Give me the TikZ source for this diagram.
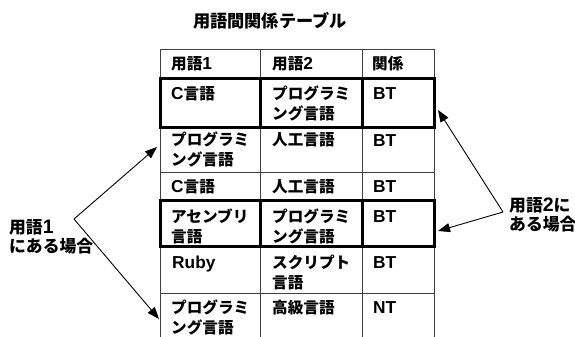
\documentclass[tikz,border=0pt]{standalone}
\usepackage{fontspec}
\setmainfont{Noto Sans CJK JP}
\newfontfamily\latfont{Liberation Sans}
\usetikzlibrary{arrows.meta}
\newcommand\lt[1]{{\latfont\bfseries\fontsize{17.3bp}{20bp}\selectfont #1}}
\newcommand\ltl[1]{{\latfont\bfseries\fontsize{19.5bp}{19bp}\selectfont #1}}
\begin{document}
\begin{tikzpicture}[x=1bp,y=-1bp,
  cell/.style={anchor=north west,inner sep=0pt,align=left,font=\bfseries\fontsize{15.6bp}{20bp}\selectfont},
  lbl/.style={anchor=north west,inner sep=0pt,align=left,font=\bfseries\fontsize{16.8bp}{19bp}\selectfont},
  thin/.style={draw=black!75,line width=0.8bp},
  bold/.style={draw=black,line width=3bp},
  arr/.style={draw=black,line width=0.9bp,-{Triangle[length=12bp,width=9bp]}}]
\useasboundingbox (0,0) rectangle (575,336);
% title
\node[anchor=base,inner sep=0pt,font=\bfseries\fontsize{17.2bp}{19bp}\selectfont] (title) at (270,27) {用語間関係テーブル};
% thin grid
\draw[thin] (160,49) -- (434,49);
\foreach \y in {78,127,172,200,246,293} \draw[thin] (160,\y) -- (434,\y);
\foreach \x in {160,260,362,434} \draw[thin] (\x,49) -- (\x,337);
% bold boxes
\draw[bold] (160,78) rectangle (434,127);
\draw[bold] (260,78) -- (260,127) (362,78) -- (362,127);
\draw[bold] (160,200) rectangle (434,246);
\draw[bold] (260,200) -- (260,246) (362,200) -- (362,246);
% header
\node[cell] (h1) at (171,56) {用語\lt{1}};
\node[cell] (h2) at (272,56) {用語\lt{2}};
\node[cell] (h3) at (372,56) {関係};
% row 1
\node[cell] (a1) at (171,86) {\lt{C}言語};
\node[cell] (a2) at (272,86) {プログラミ\\ング言語};
\node[cell] (a3) at (373,87) {\lt{BT}};
% row 2
\node[cell] (b1) at (171,132) {プログラミ\\ング言語};
\node[cell] (b2) at (272,132) {人工言語};
\node[cell] (b3) at (373,134) {\lt{BT}};
% row 3
\node[cell] (c1) at (171,179) {\lt{C}言語};
\node[cell] (c2) at (272,179) {人工言語};
\node[cell] (c3) at (373,180) {\lt{BT}};
% row 4
\node[cell] (d1) at (171,209) {アセンブリ\\言語};
\node[cell] (d2) at (272,209) {プログラミ\\ング言語};
\node[cell] (d3) at (373,210) {\lt{BT}};
% row 5
\node[cell] (e1) at (172,256) {\lt{Ruby}};
\node[cell] (e2) at (272,255) {スクリプト\\言語};
\node[cell] (e3) at (373,256) {\lt{BT}};
% row 6
\node[cell] (f1) at (171,300) {プログラミ\\ング言語};
\node[cell] (f2) at (272,300) {高級言語};
\node[cell] (f3) at (373,301) {\lt{NT}};
% labels
\node[lbl] (l1) at (9,219) {用語\ltl{1}\\にある場合};
\node[lbl] (l2) at (509,197) {用語\ltl{2}に\\ある場合};
% arrows
\coordinate (lo) at (74,219);
\coordinate (ro) at (503,212);
\coordinate (t1) at (157,147);
\coordinate (t2) at (159,319);
\coordinate (t3) at (438,110);
\coordinate (t4) at (438,231);
\draw[arr] (lo) -- (t1);
\draw[arr] (lo) -- (t2);
\draw[arr] (ro) -- (t3);
\draw[arr] (ro) -- (t4);
\end{tikzpicture}
\end{document}
